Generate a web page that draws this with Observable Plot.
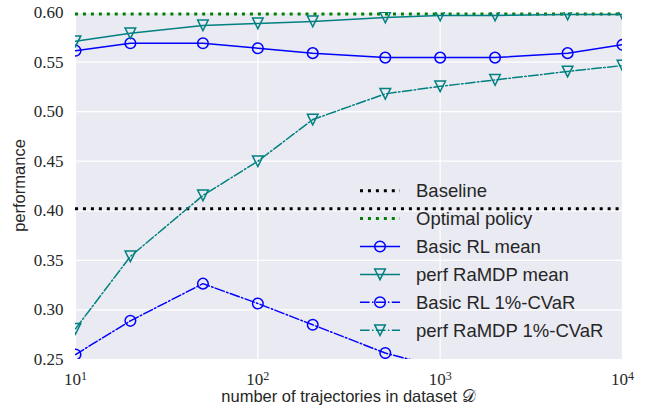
<!DOCTYPE html>
<html><head><meta charset="utf-8">
<script src="https://cdn.jsdelivr.net/npm/d3@7"></script>
<script src="https://cdn.jsdelivr.net/npm/@observablehq/plot@0.6"></script>
<style>
body{margin:0;background:#fff}
#chart{position:relative;width:646px;height:412px}
</style>
</head><body><div id="chart"></div>
<script>
// ---- data ----
const trajectories = [10, 20, 50, 100, 200, 500, 1000, 2000, 5000, 10000];
const basicRLMean   = [0.5615, 0.569, 0.569, 0.564, 0.559, 0.5545, 0.5545, 0.5545, 0.559, 0.5675];
const perfRaMDPMean = [0.571, 0.579, 0.587, 0.589, 0.591, 0.595, 0.597, 0.597, 0.598, 0.598];
const basicRLCVaR   = [0.255, 0.289, 0.3265, 0.3065, 0.285, 0.2565, 0.242, 0.236, 0.233, 0.235];
const perfRaMDPCVaR = [0.281, 0.354, 0.4155, 0.450, 0.492, 0.518, 0.5255, 0.532, 0.5405, 0.5465];
const baselineValue = 0.402;
const optimalValue = 0.5985;
const xTicks = [10, 100, 1000, 10000];
const yTicks = [0.25, 0.30, 0.35, 0.40, 0.45, 0.50, 0.55, 0.60];
const seriesNames = ["Baseline", "Optimal policy", "Basic RL mean", "perf RaMDP mean", "Basic RL 1%-CVaR", "perf RaMDP 1%-CVaR"];
const xLabel = "number of trajectories in dataset 𝒟";
const yLabel = "performance";

// ---- styles ----
const BLUE = "#0000ff", TEAL = "#008080", GREEN = "#008000", BLACK = "#000000";
const DOTTED = "3,4.95", DASHDOT = "9.6,2.4,1.5,2.4";
const triangleDown = {draw(ctx, size) { const s = Math.sqrt(size / Math.PI); ctx.moveTo(0, s); ctx.lineTo(-s, -s); ctx.lineTo(s, -s); ctx.closePath(); }};
const styles = [
  {color: BLACK, dash: DOTTED, width: 3, symbol: null},
  {color: GREEN, dash: DOTTED, width: 3, symbol: null},
  {color: BLUE, dash: null, width: 1.5, symbol: "circle"},
  {color: TEAL, dash: null, width: 1.5, symbol: "triangleDown"},
  {color: BLUE, dash: DASHDOT, width: 1.5, symbol: "circle"},
  {color: TEAL, dash: DASHDOT, width: 1.5, symbol: "triangleDown"}
];
const R = 5.3;

const seriesValues = [null, null, basicRLMean, perfRaMDPMean, basicRLCVaR, perfRaMDPCVaR];
const rows = seriesValues.map((vals, i) => vals ? trajectories.map((t, j) => ({x: t, y: vals[j]})) : null);

const marks = [
  Plot.frame({fill: "#EAEAF2", stroke: "none"}),
  Plot.gridX(xTicks, {stroke: "white", strokeOpacity: 1, strokeWidth: 1.2}),
  Plot.gridY(yTicks, {stroke: "white", strokeOpacity: 1, strokeWidth: 1.2}),
  Plot.axisX({ticks: xTicks, tickSize: 0, tickPadding: 13, tickFormat: d => `10^${Math.round(Math.log10(d))}`, label: null}),
  Plot.axisY({ticks: yTicks, tickSize: 0, tickPadding: 12, tickFormat: d3.format(".2f"), label: null}),
  Plot.ruleY([baselineValue], {stroke: styles[0].color, strokeWidth: styles[0].width, strokeDasharray: styles[0].dash}),
  Plot.ruleY([optimalValue], {stroke: styles[1].color, strokeWidth: styles[1].width, strokeDasharray: styles[1].dash})
];
for (let i = 2; i < 6; i++) {
  const st = styles[i];
  marks.push(Plot.line(rows[i], {x: "x", y: "y", stroke: st.color, strokeWidth: st.width, strokeDasharray: st.dash, clip: true}));
  marks.push(Plot.dot(rows[i], {x: "x", y: "y", r: R, stroke: st.color, strokeWidth: 1.5, fill: "none",
    symbol: st.symbol === "circle" ? "circle" : triangleDown, clip: true}));
}

const chart = Plot.plot({
  width: 646, height: 412,
  marginLeft: 75, marginRight: 24, marginTop: 12, marginBottom: 53,
  x: {type: "log", domain: [10, 10000]},
  y: {domain: [0.25, 0.60]},
  style: {fontFamily: "'Liberation Serif', serif", fontSize: "17px", background: "white", color: "#262626"},
  marks
});
document.getElementById("chart").appendChild(chart);

const svg = d3.select(chart);
// superscripts on x ticks
svg.selectAll('[aria-label="x-axis tick label"] text').each(function() {
  const parts = this.textContent.split("^");
  const t = d3.select(this);
  t.text(parts[0]);
  t.append("tspan").attr("dy", "-0.42em").attr("font-size", "12px").text(parts[1]);
});

const sans = "'Liberation Sans', sans-serif";
// axis labels
svg.append("text").attr("x", (75 + 622) / 2).attr("y", 402).attr("text-anchor", "middle")
  .attr("font-family", sans).attr("font-size", 16.5).attr("fill", "#262626").text(xLabel);
svg.append("text").attr("transform", `translate(25,${(12 + 359) / 2}) rotate(-90)`).attr("text-anchor", "middle")
  .attr("font-family", sans).attr("font-size", 16.5).attr("fill", "#262626").text(yLabel);

// legend
const lg = svg.append("g").attr("text-anchor", "start");
seriesNames.forEach((name, i) => {
  const st = styles[i];
  const cy = 190.7 + i * 27.9;
  lg.append("line").attr("x1", 360).attr("x2", 400).attr("y1", cy).attr("y2", cy)
    .attr("stroke", st.color).attr("stroke-width", st.width).attr("stroke-dasharray", st.dash);
  if (st.symbol === "circle") {
    lg.append("circle").attr("cx", 380).attr("cy", cy).attr("r", R).attr("fill", "none").attr("stroke", st.color).attr("stroke-width", 1.5);
  } else if (st.symbol) {
    lg.append("path").attr("transform", `translate(380,${cy})`).attr("d", d3.symbol(triangleDown, Math.PI * R * R)())
      .attr("fill", "none").attr("stroke", st.color).attr("stroke-width", 1.5);
  }
  lg.append("text").attr("x", 416).attr("y", cy + 6.6).attr("text-anchor", "start").attr("font-family", sans).attr("font-size", 18.5)
    .attr("fill", "#262626").text(name);
});
</script>
</body></html>
